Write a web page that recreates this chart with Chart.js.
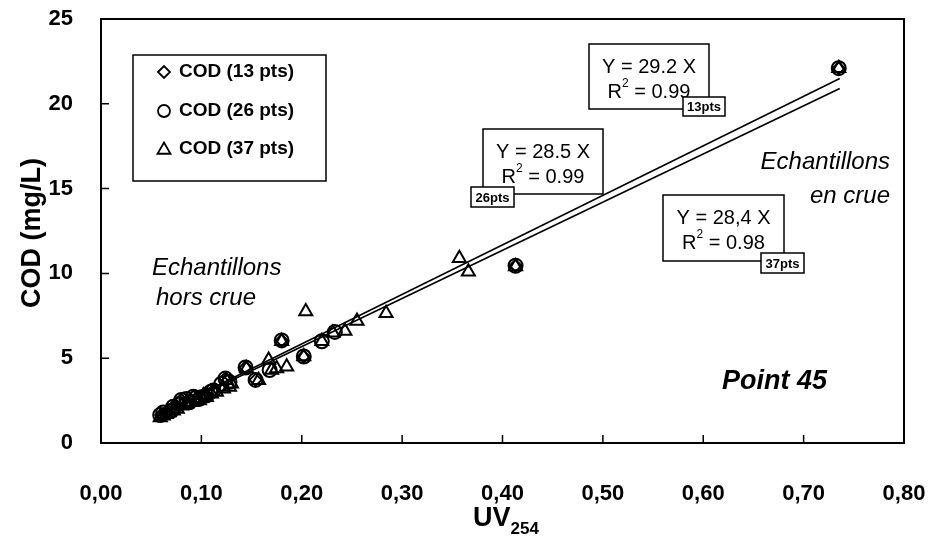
<!DOCTYPE html>
<html>
<head>
<meta charset="utf-8">
<script src="https://cdn.jsdelivr.net/npm/chart.js@4"></script>
<style>
  html, body { margin: 0; padding: 0; background: #fff; }
  #wrap { width: 928px; height: 540px; }
</style>
</head>
<body>
<div id="wrap"><canvas id="codChart" width="928" height="540"></canvas></div>
<script>
// ---------- data ----------
const xTicks = [0, 0.1, 0.2, 0.3, 0.4, 0.5, 0.6, 0.7, 0.8];
const xTickLabels = ['0,00', '0,10', '0,20', '0,30', '0,40', '0,50', '0,60', '0,70', '0,80'];
const yTicks = [0, 5, 10, 15, 20, 25];
const yTickLabels = ['0', '5', '10', '15', '20', '25'];

const seriesNames = ['COD (13 pts)', 'COD (26 pts)', 'COD (37 pts)'];

const cod13 = [
  { x: 0.060, y: 1.65 }, { x: 0.072, y: 2.14 }, { x: 0.080, y: 2.54 }, { x: 0.092, y: 2.73 },
  { x: 0.105, y: 2.80 }, { x: 0.112, y: 3.10 }, { x: 0.124, y: 3.80 }, { x: 0.144, y: 4.45 },
  { x: 0.154, y: 3.72 }, { x: 0.180, y: 6.05 }, { x: 0.202, y: 5.10 }, { x: 0.413, y: 10.45 },
  { x: 0.735, y: 22.10 }
];

const cod26 = [
  { x: 0.059, y: 1.65 }, { x: 0.062, y: 1.80 }, { x: 0.070, y: 1.90 }, { x: 0.072, y: 2.14 },
  { x: 0.078, y: 2.30 }, { x: 0.080, y: 2.54 }, { x: 0.085, y: 2.60 }, { x: 0.088, y: 2.40 },
  { x: 0.092, y: 2.73 }, { x: 0.098, y: 2.60 }, { x: 0.100, y: 2.70 }, { x: 0.105, y: 2.80 },
  { x: 0.109, y: 3.00 }, { x: 0.112, y: 3.10 }, { x: 0.120, y: 3.50 }, { x: 0.124, y: 3.80 },
  { x: 0.128, y: 3.60 }, { x: 0.144, y: 4.45 }, { x: 0.154, y: 3.72 }, { x: 0.168, y: 4.30 },
  { x: 0.180, y: 6.05 }, { x: 0.202, y: 5.10 }, { x: 0.220, y: 6.00 }, { x: 0.233, y: 6.55 },
  { x: 0.413, y: 10.45 }, { x: 0.735, y: 22.10 }
];

const cod37 = [
  { x: 0.059, y: 1.50 }, { x: 0.062, y: 1.60 }, { x: 0.065, y: 1.70 }, { x: 0.068, y: 1.80 },
  { x: 0.072, y: 1.90 }, { x: 0.076, y: 2.00 }, { x: 0.080, y: 2.20 }, { x: 0.085, y: 2.30 },
  { x: 0.090, y: 2.40 }, { x: 0.095, y: 2.60 }, { x: 0.098, y: 2.50 }, { x: 0.102, y: 2.80 },
  { x: 0.105, y: 2.70 }, { x: 0.110, y: 2.90 }, { x: 0.115, y: 3.00 }, { x: 0.122, y: 3.20 },
  { x: 0.125, y: 3.70 }, { x: 0.128, y: 3.30 }, { x: 0.130, y: 3.50 }, { x: 0.145, y: 4.40 },
  { x: 0.157, y: 3.70 }, { x: 0.167, y: 4.90 }, { x: 0.170, y: 4.30 }, { x: 0.175, y: 4.40 },
  { x: 0.180, y: 6.00 }, { x: 0.185, y: 4.50 }, { x: 0.202, y: 5.10 }, { x: 0.204, y: 7.75 },
  { x: 0.220, y: 6.00 }, { x: 0.231, y: 6.50 }, { x: 0.243, y: 6.60 }, { x: 0.255, y: 7.20 },
  { x: 0.284, y: 7.65 }, { x: 0.357, y: 10.90 }, { x: 0.366, y: 10.10 }, { x: 0.413, y: 10.40 },
  { x: 0.735, y: 22.10 }
];

// regression lines through origin (13 pts and 37 pts fits)
const fitSlopes = [29.2, 28.4];
const fitRange = [0.058, 0.736];

// equation boxes
const eqLines = ['Y = 29.2 X', 'Y = 28.5 X', 'Y = 28,4 X'];
const r2Values = ['0.99', '0.99', '0.98'];
const eqTags = ['13pts', '26pts', '37pts'];

// ---------- layout ----------
const FONT = "'Liberation Sans', Arial, Helvetica, sans-serif";
const eqBoxes = [
  { x: 589, y: 44, w: 120, h: 65, tx: 683, ty: 97, tw: 42, th: 19 },
  { x: 483, y: 129, w: 120, h: 65, tx: 471, ty: 187, tw: 43, th: 20 },
  { x: 663, y: 195, w: 121, h: 66, tx: 761, ty: 253, tw: 43, th: 20 }
];

const fitData = fitSlopes.map(s => fitRange.map(x => ({ x: x, y: s * x })));

// ---------- custom drawing ----------
const decorPlugin = {
  id: 'decor',
  afterDatasetsDraw(chart) {
    const ctx = chart.ctx;
    const area = chart.chartArea;
    const xs = chart.scales.x;
    const ys = chart.scales.y;

    ctx.save();
    ctx.strokeStyle = '#000';
    ctx.fillStyle = '#000';

    // frame
    ctx.lineWidth = 2;
    ctx.strokeRect(area.left, area.top, area.right - area.left, area.bottom - area.top);

    // inner tick marks
    ctx.lineWidth = 1.5;
    ctx.beginPath();
    xTicks.slice(1, -1).forEach(v => {
      const px = xs.getPixelForValue(v);
      ctx.moveTo(px, area.bottom);
      ctx.lineTo(px, area.bottom - 8);
    });
    yTicks.slice(1, -1).forEach(v => {
      const py = ys.getPixelForValue(v);
      ctx.moveTo(area.left, py);
      ctx.lineTo(area.left + 8, py);
    });
    ctx.stroke();

    // equation boxes
    eqBoxes.forEach((b, i) => {
      ctx.fillStyle = '#fff';
      ctx.fillRect(b.x, b.y, b.w, b.h);
      ctx.lineWidth = 1.5;
      ctx.strokeRect(b.x, b.y, b.w, b.h);
      ctx.fillStyle = '#000';
      ctx.textBaseline = 'middle';
      ctx.textAlign = 'center';
      ctx.font = '20px ' + FONT;
      const cx = b.x + b.w / 2;
      ctx.fillText(eqLines[i], cx, b.y + 23);

      // R² = ...
      const rest = ' = ' + r2Values[i];
      ctx.font = '20px ' + FONT;
      const wR = ctx.measureText('R').width;
      const wRest = ctx.measureText(rest).width;
      ctx.font = '12px ' + FONT;
      const wSup = ctx.measureText('2').width;
      let sx = cx - (wR + wSup + wRest) / 2;
      ctx.textAlign = 'left';
      ctx.font = '20px ' + FONT;
      ctx.fillText('R', sx, b.y + 48);
      ctx.font = '12px ' + FONT;
      ctx.fillText('2', sx + wR, b.y + 40);
      ctx.font = '20px ' + FONT;
      ctx.fillText(rest, sx + wR + wSup, b.y + 48);

      // tag box
      ctx.fillStyle = '#fff';
      ctx.fillRect(b.tx, b.ty, b.tw, b.th);
      ctx.lineWidth = 1.5;
      ctx.strokeRect(b.tx, b.ty, b.tw, b.th);
      ctx.fillStyle = '#000';
      ctx.textAlign = 'center';
      ctx.font = 'bold 13px ' + FONT;
      ctx.fillText(eqTags[i], b.tx + b.tw / 2, b.ty + b.th / 2 + 1);
    });

    // free texts
    ctx.textBaseline = 'middle';
    ctx.font = 'italic 24px ' + FONT;
    ctx.textAlign = 'right';
    ctx.fillText('Echantillons', 890, 162);
    ctx.fillText('en crue', 890, 196);
    ctx.textAlign = 'left';
    ctx.fillText('Echantillons', 152, 268);
    ctx.fillText('hors crue', 156, 298);
    ctx.font = 'italic bold 27px ' + FONT;
    ctx.fillText('Point 45', 722, 382);

    // legend box
    ctx.fillStyle = '#fff';
    ctx.fillRect(133, 55, 193, 126);
    ctx.lineWidth = 1.5;
    ctx.strokeRect(133, 55, 193, 126);
    const legendY = [72, 111, 149];
    const legendStyles = [
      { pointStyle: 'rectRot', radius: 6 },
      { pointStyle: 'circle', radius: 6 },
      { pointStyle: 'triangle', radius: 7.5 }
    ];
    legendStyles.forEach((st, i) => {
      ctx.lineWidth = 1.8;
      ctx.strokeStyle = '#000';
      ctx.fillStyle = 'rgba(0,0,0,0)';
      Chart.helpers.drawPoint(ctx, { pointStyle: st.pointStyle, radius: st.radius, borderWidth: 1.8, rotation: 0 },
        164, legendY[i] + (st.pointStyle === 'triangle' ? 1 : 0));
      ctx.fillStyle = '#000';
      ctx.textAlign = 'left';
      ctx.font = 'bold 19px ' + FONT;
      ctx.fillText(seriesNames[i], 179, legendY[i]);
    });

    // axis titles
    ctx.fillStyle = '#000';
    ctx.font = 'bold 27px ' + FONT;
    ctx.textAlign = 'center';
    ctx.save();
    ctx.translate(33, 233);
    ctx.rotate(-Math.PI / 2);
    ctx.fillText('COD (mg/L)', 0, 0);
    ctx.restore();

    ctx.textAlign = 'left';
    ctx.font = 'bold 27px ' + FONT;
    const wUV = ctx.measureText('UV').width;
    ctx.font = 'bold 17px ' + FONT;
    const wSub = ctx.measureText('254').width;
    const ux = 506 - (wUV + wSub) / 2;
    ctx.font = 'bold 27px ' + FONT;
    ctx.fillText('UV', ux, 519);
    ctx.font = 'bold 17px ' + FONT;
    ctx.fillText('254', ux + wUV, 529);

    ctx.restore();
  }
};

// ---------- chart ----------
const pointCommon = {
  type: 'scatter',
  borderColor: '#000',
  backgroundColor: 'rgba(0,0,0,0)',
  borderWidth: 2
};

new Chart(document.getElementById('codChart'), {
  type: 'scatter',
  data: {
    datasets: [
      { ...pointCommon, label: seriesNames[2], data: cod37, pointStyle: 'triangle', pointRadius: 7.5 },
      { ...pointCommon, label: seriesNames[1], data: cod26, pointStyle: 'circle', pointRadius: 7 },
      { ...pointCommon, label: seriesNames[0], data: cod13, pointStyle: 'rectRot', pointRadius: 6 },
      {
        type: 'line', label: 'fit 13', data: fitData[0], borderColor: '#000', borderWidth: 1.6,
        pointRadius: 0, fill: false, tension: 0
      },
      {
        type: 'line', label: 'fit 37', data: fitData[1], borderColor: '#000', borderWidth: 1.6,
        pointRadius: 0, fill: false, tension: 0
      }
    ]
  },
  options: {
    responsive: false,
    animation: false,
    layout: { padding: { top: 19, right: 24, left: 0, bottom: 0 } },
    plugins: {
      legend: { display: false },
      tooltip: { enabled: false }
    },
    scales: {
      x: {
        type: 'linear',
        min: 0,
        max: 0.8,
        afterBuildTicks: scale => { scale.ticks = xTicks.map(v => ({ value: v })); },
        afterFit: scale => { scale.height = 97; scale.paddingLeft = 0; scale.paddingRight = 0; },
        grid: { display: false },
        border: { display: false },
        ticks: {
          color: '#000',
          padding: 30,
          maxRotation: 0,
          autoSkip: false,
          font: { family: FONT, size: 22, weight: 'bold' },
          callback: (value, index) => xTickLabels[index]
        }
      },
      y: {
        type: 'linear',
        min: 0,
        max: 25,
        afterBuildTicks: scale => { scale.ticks = yTicks.map(v => ({ value: v })); },
        afterFit: scale => { scale.width = 101; scale.paddingTop = 0; scale.paddingBottom = 0; },
        grid: { display: false },
        border: { display: false },
        ticks: {
          color: '#000',
          padding: 20,
          autoSkip: false,
          font: { family: FONT, size: 22, weight: 'bold' },
          callback: (value, index) => yTickLabels[index]
        }
      }
    }
  },
  plugins: [decorPlugin]
});
</script>
</body>
</html>
